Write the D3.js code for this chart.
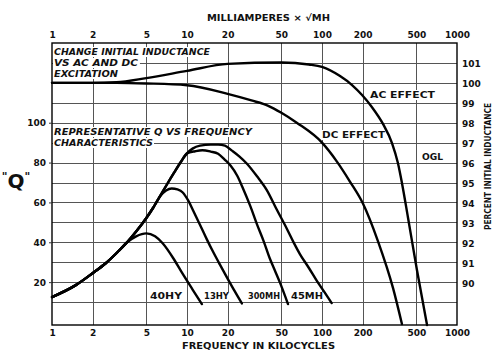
<!DOCTYPE html>
<html><head><meta charset="utf-8">
<script src="https://cdn.jsdelivr.net/npm/d3@7"></script>
<style>
html,body{margin:0;padding:0;background:#fff;}
svg text{font-family:"DejaVu Sans",sans-serif;font-weight:bold;fill:#111;}
</style></head>
<body><svg id="c" width="494" height="352"></svg>
<script>
// ---------- data ----------
const xTicks = [1,2,5,10,20,50,100,200,500,1000];
const xTickLabels = ["1","2","5","10","20","50","100","200","500","1000"];
const qTicks = [20,40,60,80,100];
const pctTicks = [90,91,92,93,94,95,96,97,98,99,100,101];

// Q vs frequency (kc)
const f40HY = [1,1.5,2,2.5,3,3.6,4.2,5,5.8,6.6,8,9.3,11,12.9];
const q40HY = [12.5,18.5,24.5,29.5,34.5,40,43,44.5,43,39.5,31.5,24.1,16.3,9];
const f13HY = [1,1.5,2,2.5,3,3.6,4.2,5,5.6,6.3,7,7.7,8.5,9.3,10.2,11.1,12.5,14,15.5,17.5,19.8,22.5,25.5];
const q13HY = [12.5,18.5,24.5,29.5,34.5,40,45.4,52.2,57.2,63,66,67,66.5,65,61,56,48.7,41.6,35.6,28.9,22.3,15.6,9.3];
const f300MH = [1,1.5,2,2.5,3,3.6,4.2,5,5.6,6.3,7.1,8,9,10,11.5,13,15,17,19,21,23.5,26,29.5,33,37,41,45,49,56];
const q300MH = [12.5,18.5,24.5,29.5,34.5,40,45.4,52.2,57.2,63,69,74.8,80.3,84.6,85.7,86.2,85.5,84.4,81.5,78.5,73.5,67,58,49,40.5,32,25.5,19.5,9];
const f45MH = [1,1.5,2,2.5,3,3.6,4.2,5,5.6,6.3,7.1,8,9,10,11,12.5,15,17,19.1,21.5,24.5,27.8,33,39,46,55,62,68.6,80,91.6,104,118];
const q45MH = [12.5,18.5,24.5,29.5,34.5,40,45.4,52.2,57.2,63,69,74.8,80.3,84.6,87,88.5,89,89,88.5,86,83,79.4,73.1,66.2,56.7,46.7,39.6,34.1,27.1,20.6,15.1,9.5];
const qNames = ["40HY","13HY","300MH","45MH"];

// percent initial inductance vs milliamperes x sqrt(MH)
const maAC = [1,2,3,5,10,20,50,80,100,136,167,198,234,283,330,365,391,434,505,600];
const pctAC = [100,100,100.03,100.24,100.6,100.95,101.02,100.92,100.8,100.34,99.89,99.39,98.79,97.94,96.98,95.98,94.98,93.22,90.61,87.85];
const maDC = [1,2,3,5,10,20,30,40,50,65,100,129,161,201,260,336,391];
const pctDC = [100,100,100,99.97,99.88,99.45,99.12,98.85,98.5,98,97,96.05,95.05,93.95,92.05,89.7,87.9];

// ---------- chart ----------
const L=52, R=457, T=43, B=325;
const svg = d3.select("#c");
const x = d3.scaleLog().domain([1,1000]).range([L,R]);
const yQ = d3.scaleLinear().domain([-1.5,140]).range([B,T]);
const yP = d3.scaleLinear().domain([87.85,102]).range([B,T]);

const grid = svg.append("g").attr("stroke","#555").attr("stroke-width",1);
grid.selectAll("line.v").data(xTicks.slice(1,-1)).join("line")
  .attr("x1",d=>Math.round(x(d))+0.5).attr("x2",d=>Math.round(x(d))+0.5).attr("y1",T).attr("y2",B);
grid.selectAll("line.h").data(d3.range(10,140,10)).join("line")
  .attr("y1",d=>Math.round(yQ(d))+0.5).attr("y2",d=>Math.round(yQ(d))+0.5).attr("x1",L).attr("x2",R);

// backgrounds layer (for text boxes)
const bg = svg.append("g");

// curves
const lineQ = d3.line().x(d=>x(d[0])).y(d=>yQ(d[1])).curve(d3.curveMonotoneX);
const lineP = d3.line().x(d=>x(d[0])).y(d=>yP(d[1])).curve(d3.curveMonotoneX);
const qSeries = [[f40HY,q40HY],[f13HY,q13HY],[f300MH,q300MH],[f45MH,q45MH]];
const curves = svg.append("g").attr("fill","none").attr("stroke","#000").attr("stroke-width",2.4).attr("stroke-linecap","round");
qSeries.forEach(([f,q])=>curves.append("path").attr("d",lineQ(f.map((v,i)=>[v,q[i]]))));
curves.append("path").attr("d",lineP(maAC.map((v,i)=>[v,pctAC[i]])));
curves.append("path").attr("d",lineP(maDC.map((v,i)=>[v,pctDC[i]])));

// frame
svg.append("rect").attr("x",L).attr("y",T).attr("width",R-L).attr("height",B-T)
  .attr("fill","none").attr("stroke","#000").attr("stroke-width",1.4);

// axes
function styleAxis(g){ g.select(".domain").remove(); g.selectAll("text").attr("font-family","DejaVu Sans").attr("font-weight","bold").attr("font-size",9).attr("fill","#111"); }
svg.append("g").attr("transform",`translate(0,${T})`)
  .call(d3.axisTop(x).tickValues(xTicks).tickFormat((d,i)=>xTickLabels[i]).tickSize(0).tickPadding(5)).call(styleAxis);
svg.append("g").attr("transform",`translate(0,${B})`)
  .call(d3.axisBottom(x).tickValues(xTicks).tickFormat((d,i)=>xTickLabels[i]).tickSize(0).tickPadding(5)).call(styleAxis);
svg.append("g").attr("transform",`translate(${L},0)`)
  .call(d3.axisLeft(yQ).tickValues(qTicks).tickSize(3).tickPadding(3)).call(styleAxis)
  .selectAll("line").attr("stroke","#333");
svg.append("g").attr("transform",`translate(${R},0)`)
  .call(d3.axisRight(yP).tickValues(pctTicks).tickSize(0).tickPadding(5)).call(styleAxis)
  .selectAll("text").attr("dy","0.45em");

// titles
function txt(s,x0,y0,opts={}){
  const t = svg.append("text").attr("x",x0).attr("y",y0).text(s)
    .attr("font-size",opts.size||9);
  if(opts.anchor) t.attr("text-anchor",opts.anchor);
  if(opts.italic) t.attr("font-style","italic");
  if(opts.len) t.attr("textLength",opts.len).attr("lengthAdjust","spacingAndGlyphs");
  if(opts.rot) t.attr("transform",`rotate(${opts.rot},${x0},${y0})`);
  if(opts.bg){ const b=t.node().getBBox(); bg.append("rect").attr("x",b.x-1).attr("y",b.y).attr("width",b.width+2).attr("height",b.height).attr("fill","#fff"); }
  return t;
}
txt("MILLIAMPERES × √MH",207,21,{size:9,len:123});
txt("FREQUENCY IN KILOCYCLES",182,349,{size:9,len:153});
txt("PERCENT INITIAL INDUCTANCE",491,230,{size:9,len:127,rot:-90});

// "Q" label
const ql = svg.append("text").attr("x",16).attr("y",188).attr("text-anchor","middle");
ql.append("tspan").attr("font-size",11).attr("dy",-8).text('"');
ql.append("tspan").attr("font-size",20).attr("dy",8).text("Q");
ql.append("tspan").attr("font-size",11).attr("dy",-8).text('"');

txt("CHANGE INITIAL INDUCTANCE",54,55,{size:8.5,italic:true,len:156,bg:true});
txt("VS AC AND DC",54,66,{size:8.5,italic:true,len:84,bg:true});
txt("EXCITATION",54,77,{size:8.5,italic:true,len:64,bg:true});
txt("REPRESENTATIVE Q VS FREQUENCY",54,135,{size:8.5,italic:true,len:198,bg:true});
txt("CHARACTERISTICS",54,146,{size:8.5,italic:true,len:99,bg:true});

txt("AC EFFECT",370,98,{size:8.5,len:65,bg:true});
txt("DC EFFECT",322,138,{size:8.5,len:63,bg:true});
txt("OGL",422,160,{size:8.5,len:21,bg:true});

const labX = [150,204,248,291], labW=[32,25,32,32];
qNames.forEach((n,i)=>txt(n,labX[i],299,{size:8,len:labW[i],bg:true}));
</script></body></html>
